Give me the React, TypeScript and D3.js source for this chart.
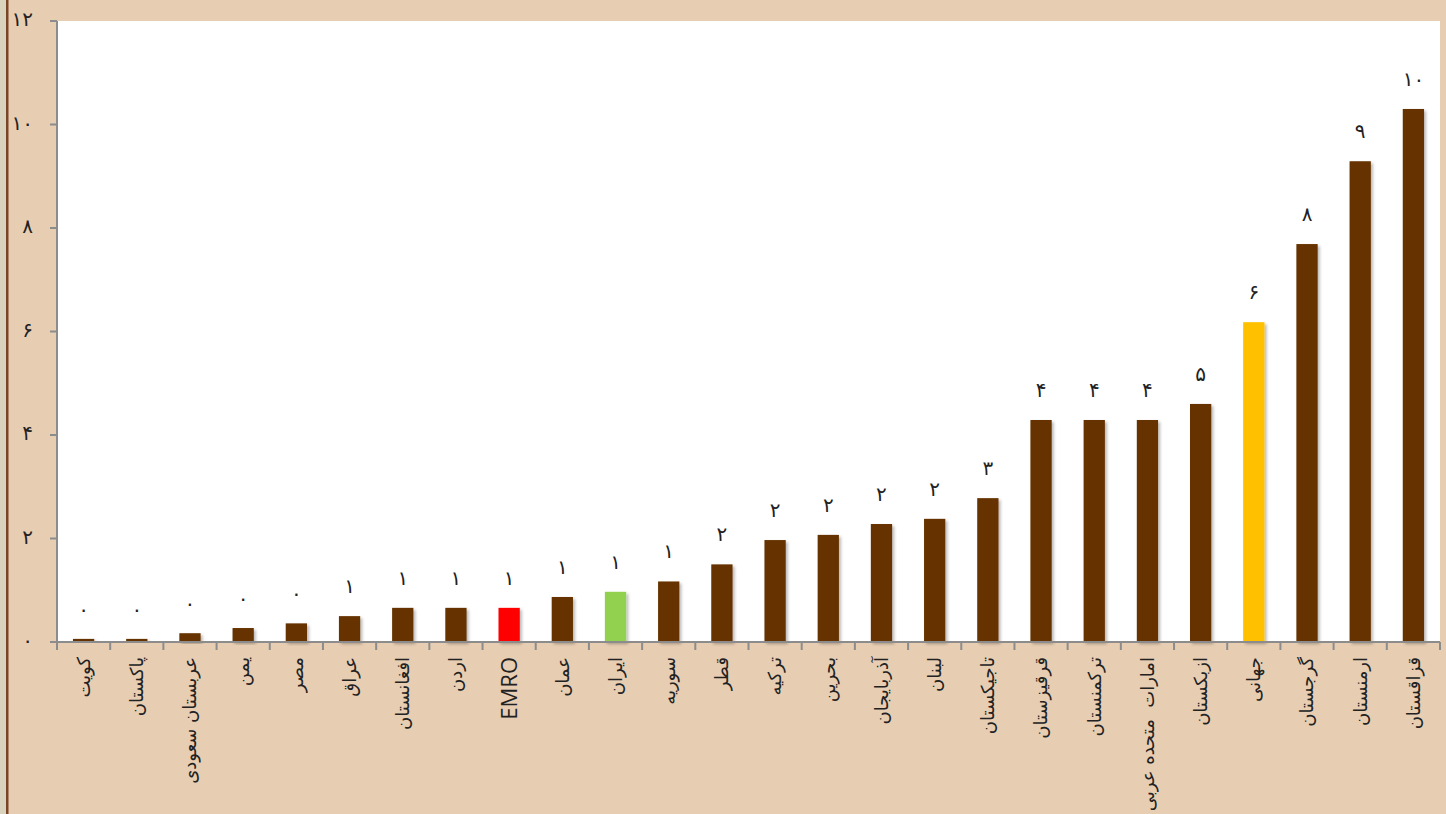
import React from "react";
import * as d3 from "d3";

const categories: string[] = [
  "کویت", "پاکستان", "عربستان سعودی", "یمن", "مصر", "عراق", "افغانستان", "اردن", "EMRO", "عمان",
  "ایران", "سوریه", "قطر", "ترکیه", "بحرین", "آذربایجان", "لبنان", "تاجیکستان", "قرقیزستان",
  "ترکمنستان", "امارات  متحده عربی", "ازبکستان", "جهانی", "گرجستان", "ارمنستان", "قزاقستان",
];
const values: number[] = [
  0.06, 0.06, 0.17, 0.27, 0.36, 0.5, 0.66, 0.66, 0.66, 0.87,
  0.97, 1.17, 1.5, 1.97, 2.07, 2.28, 2.38, 2.78, 4.29,
  4.29, 4.29, 4.6, 6.18, 7.69, 9.29, 10.3,
];
const yTicks: number[] = [0, 2, 4, 6, 8, 10, 12];
const highlight: Record<string, string> = { EMRO: "#FF0000", "ایران": "#92D050", "جهانی": "#FFC000" };

const fa = (s: string) => s.replace(/\d/g, (d) => "۰۱۲۳۴۵۶۷۸۹"[+d]);

const W = 1446, H = 814;
const L = 57, R = 1440, T = 21, B = 642;
const NUMFONT = "'DejaVu Sans', sans-serif";

export default function App() {
  const x = d3.scaleBand<string>().domain(categories).range([L, R]).padding(0);
  const y = d3.scaleLinear().domain([0, 12]).range([B, T]);
  const step = x.step();
  const bw = step * 0.4;
  const fmt = (v: number) => fa(String(Math.round(v)));

  return (
    <svg width={W} height={H} style={{ position: "absolute", left: 0, top: 0 }}>
      <defs>
        <filter id="sh" x="-30%" y="-10%" width="160%" height="130%">
          <feDropShadow dx="2" dy="2" stdDeviation="1.6" floodColor="#000" floodOpacity="0.28" />
        </filter>
      </defs>
      <rect x={0} y={0} width={W} height={H} fill="#E7CDB2" />
      <rect x={0} y={0} width={6} height={H} fill="#D9D2BC" />
      <rect x={6} y={0} width={2.5} height={H} fill="#7A4426" />
      <rect x={L} y={T} width={R - L} height={B - T} fill="#FFFFFF" />

      {categories.map((c, i) => (
        <rect
          key={"b" + i}
          x={(x(c) as number) + (step - bw) / 2}
          y={y(values[i])}
          width={bw}
          height={B - y(values[i])}
          fill={highlight[c] || "#663300"}
          filter="url(#sh)"
        />
      ))}

      {categories.map((c, i) => (
        <text
          key={"v" + i}
          x={(x(c) as number) + step / 2}
          y={y(values[i]) - 30}
          dy="0.35em"
          textAnchor="middle"
          fontFamily={NUMFONT}
          fontSize={20}
          fill="#222"
        >
          {fmt(values[i])}
        </text>
      ))}

      <line x1={L} x2={L} y1={T} y2={B} stroke="#8C8C8C" strokeWidth={2} />
      <line x1={50} x2={R} y1={B} y2={B} stroke="#8C8C8C" strokeWidth={2} />
      {yTicks.map((t) => (
        <g key={"y" + t}>
          <line x1={50} x2={L} y1={y(t)} y2={y(t)} stroke="#8C8C8C" strokeWidth={2} />
          <text
            x={33}
            y={y(t) - 2}
            dy="0.35em"
            textAnchor="end"
            fontFamily={NUMFONT}
            fontSize={20}
            fill="#222"
          >
            {fa(String(t))}
          </text>
        </g>
      ))}
      {categories.map((c, i) => (
        <line
          key={"t" + i}
          x1={x(c) as number}
          x2={x(c) as number}
          y1={B}
          y2={B + 8}
          stroke="#8C8C8C"
          strokeWidth={2}
        />
      ))}
      <line x1={R} x2={R} y1={B} y2={B + 8} stroke="#8C8C8C" strokeWidth={2} />

      {categories.map((c, i) => {
        const cx = (x(c) as number) + step / 2;
        const ty = 657;
        const latin = /[A-Za-z]/.test(c);
        return (
          <text
            key={"c" + i}
            transform={`translate(${cx},${ty}) rotate(-90)`}
            dy="0.35em"
            textAnchor="end"
            fontFamily={latin ? "'Open Sans', sans-serif" : NUMFONT}
            fontSize={latin ? 22 : 18}
            fill="#222"
            style={{ whiteSpace: "pre" }}
          >
            {c}
          </text>
        );
      })}
    </svg>
  );
}
